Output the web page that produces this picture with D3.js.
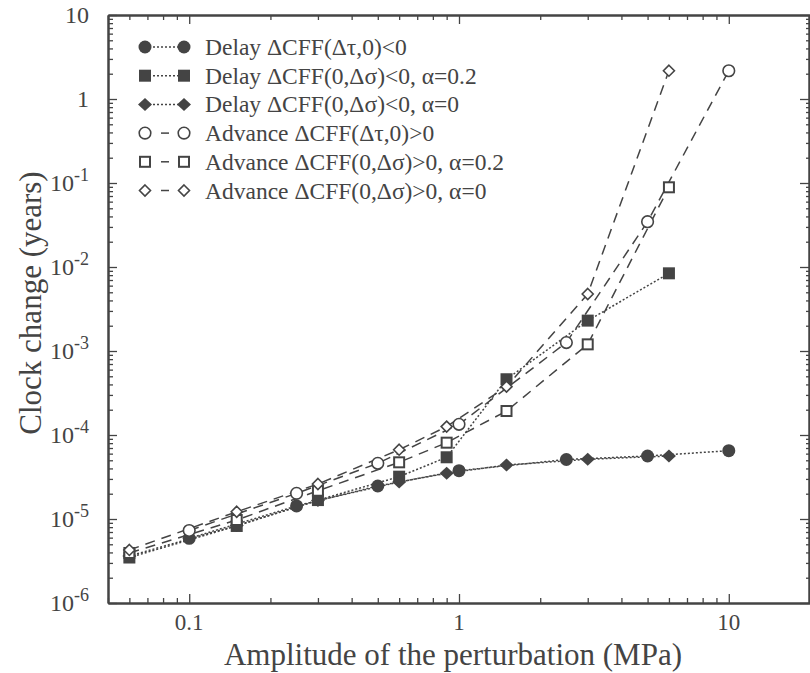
<!DOCTYPE html>
<html><head><meta charset="utf-8">
<script src="https://cdn.jsdelivr.net/npm/d3@7"></script>
<style>body{margin:0;background:#fff}svg{display:block}</style>
</head><body>
<svg id="c" width="810" height="673"></svg>
<script>
// ---- data ----
const xDomain = [0.05, 20];
const yDomain = [1e-6, 10];
const xTickVals = [0.1, 1, 10];
const xTickLabels = ["0.1", "1", "10"];
const yTickVals = [10, 1, 0.1, 0.01, 1e-3, 1e-4, 1e-5, 1e-6];
const yTickBase = ["10", "1", "10", "10", "10", "10", "10", "10"];
const yTickExp = ["", "", "-1", "-2", "-3", "-4", "-5", "-6"];

const xCircle = [0.1, 0.25, 0.5, 1, 2.5, 5, 10];
const xSquare = [0.06, 0.15, 0.3, 0.6, 0.9, 1.5, 3, 6];

const delayTau   = [5.89e-6, 1.43e-5, 2.47e-5, 3.76e-5, 5.11e-5, 5.62e-5, 6.50e-5];
const delaySig02 = [3.48e-6, 8.26e-6, 1.68e-5, 3.19e-5, 5.43e-5, 4.61e-4, 2.30e-3, 8.41e-3];
const delaySig0  = [3.63e-6, 8.37e-6, 1.66e-5, 2.76e-5, 3.50e-5, 4.39e-5, 5.14e-5, 5.62e-5];
const advTau     = [7.30e-6, 2.02e-5, 4.60e-5, 1.34e-4, 1.26e-3, 3.46e-2, 2.17];
const advSig02   = [3.94e-6, 9.73e-6, 2.17e-5, 4.73e-5, 8.10e-5, 1.93e-4, 1.20e-3, 8.89e-2];
const advSig0    = [4.28e-6, 1.22e-5, 2.61e-5, 6.68e-5, 1.26e-4, 3.76e-4, 4.77e-3, 2.17];

const legendLabels = [
  "Delay \u0394CFF(\u0394\u03c4,0)<0",
  "Delay \u0394CFF(0,\u0394\u03c3)<0, \u03b1=0.2",
  "Delay \u0394CFF(0,\u0394\u03c3)<0, \u03b1=0",
  "Advance \u0394CFF(\u0394\u03c4,0)>0",
  "Advance \u0394CFF(0,\u0394\u03c3)>0, \u03b1=0.2",
  "Advance \u0394CFF(0,\u0394\u03c3)>0, \u03b1=0"
];

// ---- build ----
const C = "#444";
const FONT = "'Liberation Serif','Times New Roman',serif";
const L = 108, R = 810, T = 15, B = 603;
const svg = d3.select("#c");
const x = d3.scaleLog().domain(xDomain).range([L, R]);
const y = d3.scaleLog().domain(yDomain).range([B, T]);

const series = [
  {xs: xCircle, ys: delayTau,   shape: "circle",  filled: true,  dash: "2,2"},
  {xs: xSquare, ys: delaySig02, shape: "square",  filled: true,  dash: "2,2"},
  {xs: xSquare, ys: delaySig0,  shape: "diamond", filled: true,  dash: "2,2"},
  {xs: xCircle, ys: advTau,     shape: "circle",  filled: false, dash: "10,7"},
  {xs: xSquare, ys: advSig02,   shape: "square",  filled: false, dash: "10,7"},
  {xs: xSquare, ys: advSig0,    shape: "diamond", filled: false, dash: "10,7"}
];

// minor ticks
const xMinor = [];
[0.01, 0.1, 1, 10].forEach(d => { for (let k = 2; k <= 9; k++) { const v = d * k; if (v >= xDomain[0] && v <= xDomain[1] && !xTickVals.includes(v)) xMinor.push(v); } });
xMinor.push(20);
const yMinor = [];
[1e-6, 1e-5, 1e-4, 1e-3, 1e-2, 0.1, 1].forEach(d => { for (let k = 2; k <= 9; k++) yMinor.push(d * k); });

function styleAxis(g) {
  g.select(".domain").attr("stroke", C).attr("stroke-width", 2);
  g.selectAll(".tick line").attr("stroke", C).attr("stroke-width", 1.3);
  g.selectAll(".tick text").remove();
}
// bottom
svg.append("g").attr("transform", `translate(0,${B})`)
  .call(d3.axisBottom(x).tickValues(xTickVals).tickSize(-9).tickSizeOuter(0).tickFormat("")).call(styleAxis);
svg.append("g").attr("transform", `translate(0,${B})`)
  .call(d3.axisBottom(x).tickValues(xMinor).tickSize(-5).tickSizeOuter(0).tickFormat("")).call(styleAxis);
// top
svg.append("g").attr("transform", `translate(0,${T})`)
  .call(d3.axisTop(x).tickValues(xTickVals).tickSize(-9).tickSizeOuter(0).tickFormat("")).call(styleAxis);
svg.append("g").attr("transform", `translate(0,${T})`)
  .call(d3.axisTop(x).tickValues(xMinor).tickSize(-5).tickSizeOuter(0).tickFormat("")).call(styleAxis);
// left
svg.append("g").attr("transform", `translate(${L},0)`)
  .call(d3.axisLeft(y).tickValues(yTickVals).tickSize(-9).tickSizeOuter(0).tickFormat("")).call(styleAxis);
svg.append("g").attr("transform", `translate(${L},0)`)
  .call(d3.axisLeft(y).tickValues(yMinor).tickSize(-5).tickSizeOuter(0).tickFormat("")).call(styleAxis);
// right
svg.append("g").attr("transform", `translate(${R - 1},0)`)
  .call(d3.axisRight(y).tickValues(yTickVals).tickSize(-9).tickSizeOuter(0).tickFormat("")).call(styleAxis);
svg.append("g").attr("transform", `translate(${R - 1},0)`)
  .call(d3.axisRight(y).tickValues(yMinor).tickSize(-3).tickSizeOuter(0).tickFormat("")).call(styleAxis);

// tick labels
svg.append("g").selectAll("text").data(xTickVals).join("text")
  .attr("x", d => x(d)).attr("y", B + 27).attr("text-anchor", "middle")
  .attr("font-family", FONT).attr("font-size", 23).attr("fill", C)
  .text((d, i) => xTickLabels[i]);
const yl = svg.append("g").selectAll("text").data(yTickVals).join("text")
  .attr("x", 89).attr("y", d => y(d) + 8).attr("text-anchor", "end")
  .attr("font-family", FONT).attr("font-size", 24).attr("fill", C);
yl.each(function(d, i) {
  const t = d3.select(this);
  t.append("tspan").text(yTickBase[i]);
  if (yTickExp[i]) t.append("tspan").attr("dy", -10).attr("font-size", 18).text(yTickExp[i]);
});

// axis titles
svg.append("text").attr("x", 453).attr("y", 665).attr("text-anchor", "middle")
  .attr("font-family", FONT).attr("font-size", 31).attr("fill", C)
  .text("Amplitude of the perturbation (MPa)");
svg.append("text").attr("transform", "translate(41,303) rotate(-90)").attr("text-anchor", "middle")
  .attr("font-family", FONT).attr("font-size", 31).attr("fill", C)
  .text("Clock change (years)");

// markers
function marker(g, shape, filled, cx, cy) {
  const fill = filled ? C : "#fff";
  const sw = filled ? 0 : 1.6;
  if (shape === "circle") {
    g.append("circle").attr("cx", cx).attr("cy", cy).attr("r", filled ? 6.5 : 5.8)
      .attr("fill", fill).attr("stroke", C).attr("stroke-width", sw);
  } else if (shape === "square") {
    const s = filled ? 12 : 10;
    g.append("rect").attr("x", cx - s / 2).attr("y", cy - s / 2).attr("width", s).attr("height", s)
      .attr("fill", fill).attr("stroke", C).attr("stroke-width", filled ? 0 : 2);
  } else {
    const w = filled ? 7 : 5.5, h = filled ? 6.5 : 5.5;
    g.append("path").attr("d", `M${cx},${cy - h}L${cx + w},${cy}L${cx},${cy + h}L${cx - w},${cy}Z`)
      .attr("fill", fill).attr("stroke", C).attr("stroke-width", sw);
  }
}

const line = d3.line().x(d => x(d[0])).y(d => y(d[1]));
const plot = svg.append("g");
series.forEach(s => {
  const pts = s.xs.map((v, i) => [v, s.ys[i]]);
  plot.append("path").datum(pts).attr("d", line).attr("fill", "none")
    .attr("stroke", C).attr("stroke-width", 1.5).attr("stroke-dasharray", s.dash);
});
series.forEach(s => {
  const g = plot.append("g");
  s.xs.forEach((v, i) => marker(g, s.shape, s.filled, x(v), y(s.ys[i])));
});

// legend
const lg = svg.append("g");
const ly0 = 47, ldy = 28.7;
series.forEach((s, i) => {
  const yy = ly0 + i * ldy;
  if (s.filled) {
    lg.append("line").attr("x1", 145).attr("x2", 184).attr("y1", yy).attr("y2", yy)
      .attr("stroke", C).attr("stroke-width", 1.5).attr("stroke-dasharray", "2,2");
  } else {
    lg.append("line").attr("x1", 161).attr("x2", 169).attr("y1", yy).attr("y2", yy)
      .attr("stroke", C).attr("stroke-width", 1.5);
  }
  marker(lg, s.shape, s.filled, 145, yy);
  marker(lg, s.shape, s.filled, 184, yy);
  lg.append("text").attr("x", 205).attr("y", yy + 8)
    .attr("font-family", FONT).attr("font-size", 23.5).attr("fill", C).text(legendLabels[i]);
});
</script>
</body></html>
